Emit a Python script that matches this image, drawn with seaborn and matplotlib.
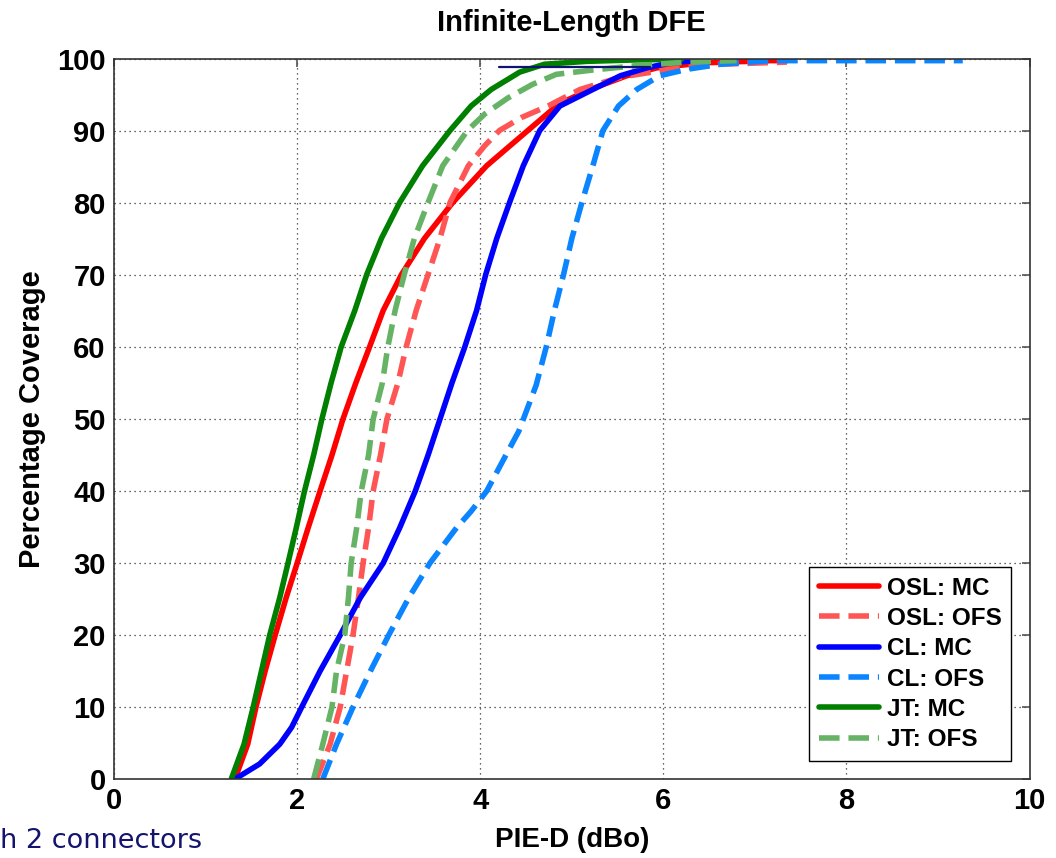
import matplotlib
matplotlib.use("Agg")
import matplotlib.pyplot as plt
import seaborn as sns
import pandas as pd

sns.set_theme(style="white")
plt.rcParams['font.family'] = ['Liberation Sans', 'DejaVu Sans']
plt.rcParams['text.color'] = 'black'
plt.rcParams['axes.labelcolor'] = 'black'
plt.rcParams['xtick.color'] = 'black'
plt.rcParams['ytick.color'] = 'black'

# ---- data ----
osl_mc_x = [1.32, 1.46, 1.55, 1.65, 1.76, 1.88, 2.00, 2.12, 2.25, 2.38, 2.50, 2.64,
            2.79, 2.94, 3.14, 3.39, 3.70, 4.07, 4.52, 4.86, 5.20, 5.60, 5.93, 6.44, 7.17, 7.35]
osl_mc_y = [0, 4.85, 10, 15, 20, 25.2, 30, 34.9, 40, 45, 50, 55,
            60, 65.1, 70.1, 75.1, 80.1, 85.2, 90.1, 93.8, 95.8, 97.7, 98.8, 99.5, 99.8, 99.8]

osl_ofs_x = [2.21, 2.36, 2.47, 2.54, 2.61, 2.67, 2.72, 2.78, 2.83, 2.91, 2.98, 3.10,
             3.19, 3.30, 3.43, 3.56, 3.67, 3.87, 4.05, 4.21, 4.45, 4.74, 5.09, 5.53,
             6.07, 6.62, 7.35]
osl_ofs_y = [0, 4.85, 10, 15, 20, 25.2, 30, 34.9, 40, 45, 50, 55,
             60, 65.1, 70.1, 75.1, 80.1, 85.2, 88, 90.1, 91.9, 93.5, 95.8, 97.5,
             98.6, 99.3, 99.6]

cl_mc_x = [1.32, 1.59, 1.81, 1.94, 2.05, 2.25, 2.47, 2.69, 2.94, 3.12, 3.29, 3.43,
           3.56, 3.69, 3.83, 3.96, 4.06, 4.18, 4.32, 4.47, 4.65, 4.87, 5.23, 5.53,
           5.82, 6.07, 6.44]
cl_mc_y = [0, 2.1, 4.85, 7.2, 10, 15, 20, 25.2, 30, 34.9, 40, 45,
           50, 55, 60, 65.1, 70.1, 75.1, 80.1, 85.2, 90.1, 93.5, 95.8, 97.7,
           98.8, 99.5, 99.9]

cl_ofs_x = [2.28, 2.43, 2.61, 2.80, 3.00, 3.22, 3.45, 3.74, 3.90, 4.07, 4.28, 4.42,
            4.61, 4.72, 4.81, 4.91, 5.00, 5.11, 5.23, 5.34, 5.51, 5.71, 5.96, 6.26,
            6.62, 7.17, 9.27]
cl_ofs_y = [0, 4.85, 10, 15, 20, 25.2, 30, 34.9, 37.2, 40, 45, 48.3,
            54.7, 60, 65.1, 70.1, 75.1, 80.1, 85.2, 90.1, 93.5, 95.8, 97.7, 98.6,
            99.3, 99.8, 99.8]

jt_mc_x = [1.28, 1.42, 1.52, 1.61, 1.70, 1.81, 1.90, 1.99, 2.08, 2.18, 2.27, 2.37,
           2.48, 2.63, 2.76, 2.92, 3.12, 3.37, 3.67, 3.90, 4.12, 4.43, 4.70, 5.16, 5.70, 6.20]
jt_mc_y = [0, 4.85, 10, 15, 20, 25.2, 30, 34.9, 40, 45, 50, 55,
           60, 65.1, 70.1, 75.1, 80.1, 85.2, 90.1, 93.5, 95.8, 98.2, 99.3, 99.7, 99.9, 100]

jt_ofs_x = [2.18, 2.28, 2.38, 2.43, 2.52, 2.56, 2.59, 2.65, 2.70, 2.78, 2.83, 2.93,
            2.99, 3.07, 3.17, 3.28, 3.43, 3.59, 3.86, 4.05, 4.30, 4.57, 4.83, 5.23,
            5.70, 6.26, 6.80]
jt_ofs_y = [0, 4.85, 10, 15, 20, 25.2, 30, 34.9, 40, 45, 50, 55,
            60, 65.1, 70.1, 75.1, 80.1, 85.2, 90.1, 92.4, 94.6, 96.5, 97.9, 98.5,
            99.1, 99.6, 99.8]

marker_x = [4.2, 5.85]
marker_y = [98.9, 98.9]

labels = ["OSL: MC", "OSL: OFS", "CL: MC", "CL: OFS", "JT: MC", "JT: OFS"]
xticks = [0, 2, 4, 6, 8, 10]
yticks = [0, 10, 20, 30, 40, 50, 60, 70, 80, 90, 100]

series = [
    (osl_mc_x, osl_mc_y, "#ff0000", "-"),
    (osl_ofs_x, osl_ofs_y, "#ff5555", "--"),
    (cl_mc_x, cl_mc_y, "#0000ff", "-"),
    (cl_ofs_x, cl_ofs_y, "#0a84ff", "--"),
    (jt_mc_x, jt_mc_y, "#007f00", "-"),
    (jt_ofs_x, jt_ofs_y, "#66b366", "--"),
]

fig = plt.figure(figsize=(10.56, 8.58), dpi=100)
ax = fig.add_axes([0.108, 0.092, 0.867, 0.839])

for (xs, ys, col, ls), lab in zip(series, labels):
    df = pd.DataFrame({"x": xs, "y": ys})
    kw = dict(dashes=(1.8, 1.0)) if ls == "--" else {}
    sns.lineplot(data=df, x="x", y="y", ax=ax, color=col, linewidth=4.0,
                 sort=False, estimator=None, label=lab, linestyle=ls, **kw)

sns.lineplot(x=marker_x, y=marker_y, ax=ax, color="#0f1470", linewidth=1.6,
             sort=False, estimator=None)

ax.set_xlim(0, 10)
ax.set_ylim(0, 100)
ax.set_xticks(xticks)
ax.set_yticks(yticks)
ax.set_xticklabels([str(t) for t in xticks])
ax.set_yticklabels([str(t) for t in yticks])
ax.tick_params(direction="in", length=6, width=1.2, top=True, right=True,
               labelsize=21, pad=6, color="#555555", labelcolor="black")
for lab in ax.get_xticklabels() + ax.get_yticklabels():
    lab.set_fontweight("bold")
ax.grid(True, linestyle=(0, (1, 3)), color="#333333", linewidth=0.9)
for s in ax.spines.values():
    s.set_visible(True)
    s.set_color("#333333")
    s.set_linewidth(1.2)

ax.set_xlabel("PIE-D (dBo)", fontsize=20, fontweight="bold", labelpad=8, color="black")
ax.set_ylabel("Percentage Coverage", fontsize=21, fontweight="bold", labelpad=8, color="black")
ax.set_title("Infinite-Length DFE", fontsize=21, fontweight="bold", pad=20, color="black")

leg = ax.legend(loc="lower right", fontsize=17.5, frameon=True, fancybox=False,
                edgecolor="black", framealpha=1, handlelength=2.5,
                borderaxespad=0.75, labelspacing=0.3, handletextpad=0.3,
                borderpad=0.4)
leg.get_frame().set_linewidth(1.0)
for t in leg.get_texts():
    t.set_fontweight("bold")
    t.set_color("black")

fig.text(0.0, 0.012, "h 2 connectors", color="#14146e", fontsize=19.5,
         family=["DejaVu Sans", "Liberation Sans"])

fig.savefig("out.png", dpi=100)
